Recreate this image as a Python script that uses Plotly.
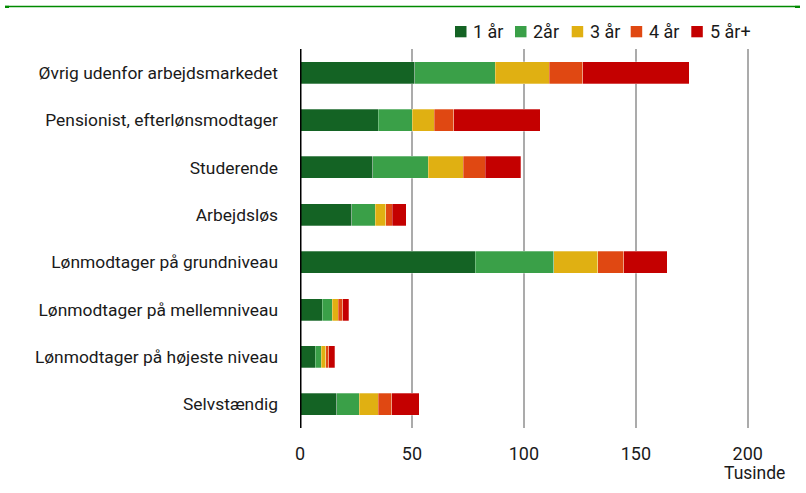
import plotly.graph_objects as go

categories = [
    "Øvrig udenfor arbejdsmarkedet",
    "Pensionist, efterlønsmodtager",
    "Studerende",
    "Arbejdsløs",
    "Lønmodtager på grundniveau",
    "Lønmodtager på mellemniveau",
    "Lønmodtager på højeste niveau",
    "Selvstændig",
]
series_names = ["1 år", "2år", "3 år", "4 år", "5 år+"]
v_1aar = [51.3, 34.9, 32.6, 23.2, 78.2, 9.9, 6.7, 16.5]
v_2aar = [35.9, 15.2, 24.6, 10.3, 35.2, 4.5, 2.8, 10.0]
v_3aar = [24.1, 9.9, 15.7, 4.9, 19.7, 2.7, 2.1, 8.4]
v_4aar = [15.1, 8.7, 9.8, 2.9, 11.6, 2.0, 1.2, 6.1]
v_5aar = [47.4, 38.7, 15.8, 6.2, 19.4, 2.7, 2.7, 12.2]
x_ticks = [0, 50, 100, 150, 200]
unit_label = "Tusinde"

colors = ["#146324", "#3aa048", "#e0b012", "#e04812", "#c40000"]
values = [v_1aar, v_2aar, v_3aar, v_4aar, v_5aar]

W, H = 806, 493
L, R, T, B = 300, 56, 49, 65
PW = W - L - R
PH = H - T - B
FONT = "Roboto"
TXT = "#1a1a1a"


def px(x):
    return (x - L) / PW


def py(y):
    return 1 - (y - T) / PH


fig = go.Figure()
for name, vals, col in zip(series_names, values, colors):
    fig.add_trace(go.Bar(
        y=categories, x=vals, name=name, orientation="h",
        marker=dict(color=col, line=dict(color="rgba(255,255,255,0.35)", width=0.8)),
        showlegend=False,
    ))

shapes = []
annotations = []
# custom legend
leg_sq_x = [455, 515, 571.7, 630.7, 691.3]
leg_tx_x = [471, 531, 587.5, 646.5, 707.5]
for name, col, sx, tx in zip(series_names, colors, leg_sq_x, leg_tx_x):
    shapes.append(dict(type="rect", xref="paper", yref="paper",
                       x0=px(sx), x1=px(sx + 11.5), y0=py(37.3), y1=py(26),
                       fillcolor=col, line=dict(width=0)))
    annotations.append(dict(text=name, xref="paper", yref="paper",
                            x=px(tx), y=py(31.5), xanchor="left", yanchor="middle",
                            showarrow=False, font=dict(family=FONT, size=18, color=TXT)))

# zero axis line
shapes.append(dict(type="line", xref="x", yref="paper", x0=0, x1=0, y0=0, y1=1,
                   line=dict(color="black", width=3), layer="above"))
# top green rule
shapes.append(dict(type="line", xref="paper", yref="paper", x0=px(5), x1=px(800),
                   y0=py(6.5), y1=py(6.5), line=dict(color="#008a00", width=1.5)))
shapes.append(dict(type="rect", xref="paper", yref="paper", x0=px(5), x1=px(9),
                   y0=py(8), y1=py(5.8), fillcolor="#008a00", line=dict(width=0)))
shapes.append(dict(type="rect", xref="paper", yref="paper", x0=px(795), x1=px(800),
                   y0=py(8), y1=py(5.8), fillcolor="#008a00", line=dict(width=0)))

annotations.append(dict(text=unit_label, xref="paper", yref="paper",
                        x=px(754.5), y=py(472.5), xanchor="center", yanchor="middle",
                        showarrow=False, font=dict(family=FONT, size=17.5, color=TXT)))

fig.update_layout(
    barmode="stack",
    width=W, height=H,
    margin=dict(l=L, r=R, t=T, b=B, pad=0),
    paper_bgcolor="white", plot_bgcolor="white",
    bargap=0.535,
    font=dict(family=FONT, size=18, color=TXT),
    shapes=shapes, annotations=annotations,
    xaxis=dict(range=[0, 201], tickvals=x_ticks, ticktext=[str(t) for t in x_ticks],
               showgrid=True, gridcolor="#ababab", gridwidth=2,
               zeroline=False, showline=False, ticks="", ticklabelstandoff=13,
               tickfont=dict(family=FONT, size=18, color=TXT), fixedrange=True),
    yaxis=dict(autorange="reversed", showgrid=False, zeroline=False, showline=False,
               ticks="", ticklabelstandoff=21,
               tickfont=dict(family=FONT, size=17.4, color=TXT), fixedrange=True),
)

fig.write_html("out.html",
               config={"displayModeBar": False},
               post_script="document.body.style.margin='0px';document.body.style.overflow='hidden';")
